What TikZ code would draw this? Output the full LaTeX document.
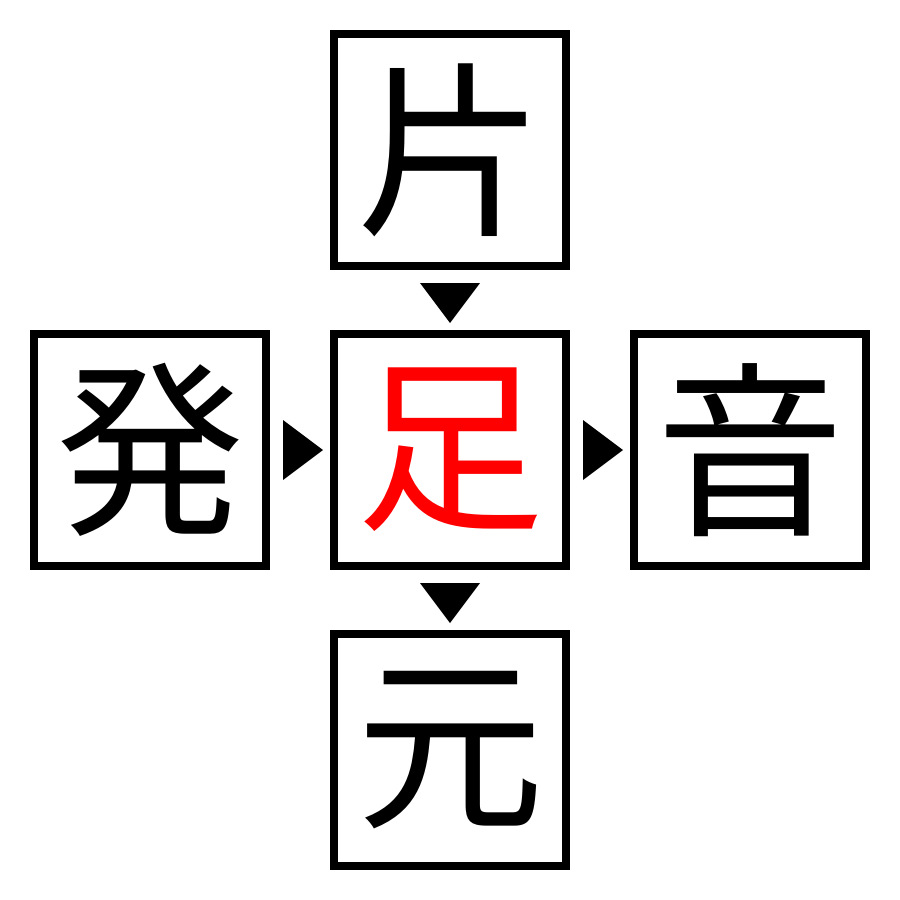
\documentclass[tikz,border=0pt]{standalone}
\usepackage{fontspec}
\newfontfamily\cjk{Noto Sans CJK JP}
\begin{document}
\begin{tikzpicture}[x=1pt,y=-1pt,
  kbox/.style={draw=black,line width=8pt,minimum size=232pt,inner sep=0pt,font=\cjk\fontsize{188}{188}\selectfont},
  tri/.style={fill=black}]
\useasboundingbox (0,0) rectangle (900,900);
\node[kbox] (t) at (450,150) {片};
\node[kbox,text=red] (c) at (450,450) {足};
\node[kbox] (l) at (150,450) {発};
\node[kbox] (r) at (750,450) {音};
\node[kbox] (b) at (450,750) {元};
\fill[tri] (420,283) -- (480,283) -- (450,323) -- cycle;
\fill[tri] (420,583) -- (480,583) -- (450,623) -- cycle;
\fill[tri] (283,420) -- (283,480) -- (323,450) -- cycle;
\fill[tri] (583,420) -- (583,480) -- (623,450) -- cycle;
\end{tikzpicture}
\end{document}
